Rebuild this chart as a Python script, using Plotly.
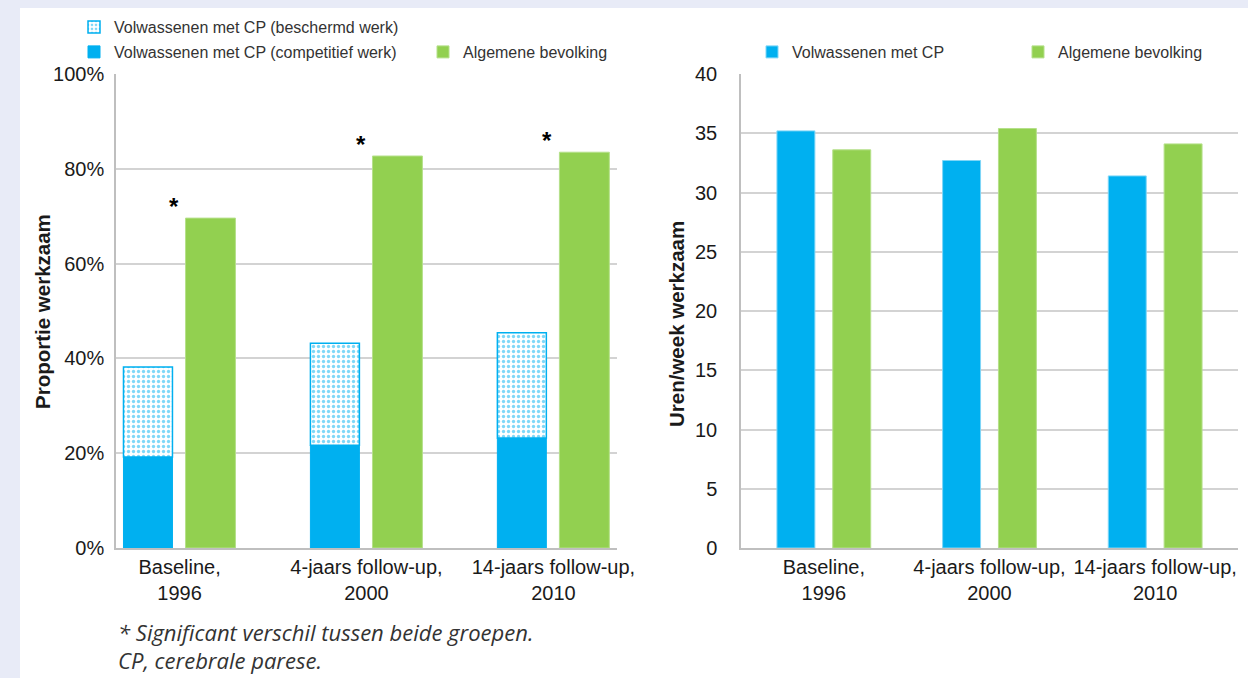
import plotly.graph_objects as go

categories = ["Baseline,<br>1996", "4-jaars follow-up,<br>2000", "14-jaars follow-up,<br>2010"]

# Left chart: proportion employed (%)
cp_competitief = [19.2, 21.7, 23.2]
cp_totaal = [38.2, 43.2, 45.4]
cp_beschermd = [t - c for t, c in zip(cp_totaal, cp_competitief)]
alg_proportie = [69.6, 82.7, 83.5]
significant = [True, True, True]

# Right chart: hours per week
cp_uren = [35.2, 32.7, 31.4]
alg_uren = [33.6, 35.4, 34.1]

left_ticks = [0, 20, 40, 60, 80, 100]
left_ticklabels = ["0%", "20%", "40%", "60%", "80%", "100%"]
right_ticks = [0, 5, 10, 15, 20, 25, 30, 35, 40]

BLUE = "#00b0f0"
GREEN = "#92d050"
LAVENDER = "#e8ebf7"
FONT = "Liberation Sans, Arial, sans-serif"
TXT = "#1a1a1a"
W, H = 1248, 678

fig = go.Figure()

# Left chart
fig.add_trace(go.Bar(
    x=categories, y=cp_competitief, name="Volwassenen met CP (competitief werk)",
    marker=dict(color=BLUE, line=dict(color=BLUE, width=1)),
    offset=-0.30, width=0.262, xaxis="x", yaxis="y", legend="legend2",
))
fig.add_trace(go.Bar(
    x=categories, y=cp_beschermd, base=cp_competitief, name="Volwassenen met CP (beschermd werk)",
    marker=dict(color="white", line=dict(color=BLUE, width=1.5),
                pattern=dict(shape=".", fgcolor=BLUE, bgcolor="white", size=5, solidity=0.35)),
    offset=-0.30, width=0.262, xaxis="x", yaxis="y", legend="legend",
))
fig.add_trace(go.Bar(
    x=categories, y=alg_proportie, name="Algemene bevolking",
    marker=dict(color=GREEN, line=dict(color="#b5e08a", width=1)),
    offset=0.032, width=0.267, xaxis="x", yaxis="y", legend="legend3",
))

# Right chart
fig.add_trace(go.Bar(
    x=categories, y=cp_uren, name="Volwassenen met CP",
    marker=dict(color=BLUE, line=dict(color="#7fd6f7", width=1)),
    offset=-0.283, width=0.229, xaxis="x2", yaxis="y2", legend="legend4",
))
fig.add_trace(go.Bar(
    x=categories, y=alg_uren, name="Algemene bevolking",
    marker=dict(color=GREEN, line=dict(color="#b5e08a", width=1)),
    offset=0.054, width=0.229, xaxis="x2", yaxis="y2", legend="legend5",
))

annotations = []
for cat, val, sig in zip(categories, alg_proportie, significant):
    if sig:
        annotations.append(dict(x=cat, y=val + 2.5, xref="x", yref="y", text="<b>*</b>",
                                showarrow=False, xshift=-6, xanchor="center", yanchor="middle",
                                font=dict(family=FONT, size=24, color="black")))

annotations += [
    dict(x=42 / W, y=1 - 312 / H, xref="paper", yref="paper", text="<b>Proportie werkzaam</b>",
         textangle=-90, showarrow=False, xanchor="center", yanchor="middle",
         font=dict(family=FONT, size=20.5, color=TXT)),
    dict(x=676 / W, y=1 - 324 / H, xref="paper", yref="paper", text="<b>Uren/week werkzaam</b>",
         textangle=-90, showarrow=False, xanchor="center", yanchor="middle",
         font=dict(family=FONT, size=20.5, color=TXT)),
    dict(x=116 / W, y=1 - 632 / H, xref="paper", yref="paper", xanchor="left", yanchor="middle",
         text="<i>* Significant verschil tussen beide groepen.</i>", showarrow=False,
         font=dict(family="Open Sans, sans-serif", size=22, color="#333333")),
    dict(x=116 / W, y=1 - 660 / H, xref="paper", yref="paper", xanchor="left", yanchor="middle",
         text="<i>CP, cerebrale parese.</i>", showarrow=False,
         font=dict(family="Open Sans, sans-serif", size=22, color="#333333")),
]

shapes = [dict(type="rect", xref="paper", yref="paper", x0=20 / W, x1=1.0, y0=0, y1=1 - 8 / H,
               fillcolor="white", line=dict(width=0), layer="below")]

axis_common = dict(showgrid=False, showline=True, linecolor="#bfbfbf", linewidth=1.5,
                   tickfont=dict(family=FONT, size=20, color=TXT), ticks="", fixedrange=True)
yaxis_common = dict(showgrid=True, gridcolor="#d3d3d3", gridwidth=1.5, showline=True,
                    linecolor="#bfbfbf", linewidth=1.5, zeroline=False, ticks="",
                    tickfont=dict(family=FONT, size=20, color=TXT), fixedrange=True)


def leg(text_x, y_px):
    return dict(x=(text_x - 40) / W, y=1 - y_px / H, orientation="h", bgcolor="rgba(0,0,0,0)",
                xanchor="left", yanchor="middle", font=dict(family=FONT, size=16, color="#333333"),
                itemwidth=30, itemclick=False, itemdoubleclick=False)


fig.update_layout(
    width=W, height=H,
    margin=dict(l=0, r=0, t=0, b=0, autoexpand=False),
    paper_bgcolor=LAVENDER, plot_bgcolor="white",
    barmode="overlay", showlegend=True,
    xaxis=dict(domain=[116 / W, 617 / W], anchor="y", range=[-0.34, 2.34], **axis_common),
    yaxis=dict(domain=[1 - 548 / H, 1 - 74 / H], anchor="x", range=[0, 100],
               tickvals=left_ticks, ticktext=left_ticklabels, ticklabelstandoff=6, **yaxis_common),
    xaxis2=dict(domain=[741 / W, 1238 / W], anchor="y2", range=[-0.5, 2.5], **axis_common),
    yaxis2=dict(domain=[1 - 548 / H, 1 - 74 / H], anchor="x2", range=[0, 40],
                tickvals=right_ticks, ticklabelstandoff=18, **yaxis_common),
    legend=leg(114, 27),
    legend2=leg(114, 52),
    legend3=leg(463, 52),
    legend4=leg(792, 52),
    legend5=leg(1058, 52),
    annotations=annotations, shapes=shapes,
)

fig.write_html(
    "out.html",
    config={"displayModeBar": False},
    post_script="document.body.style.margin='0';document.body.style.background='%s';" % LAVENDER,
)
